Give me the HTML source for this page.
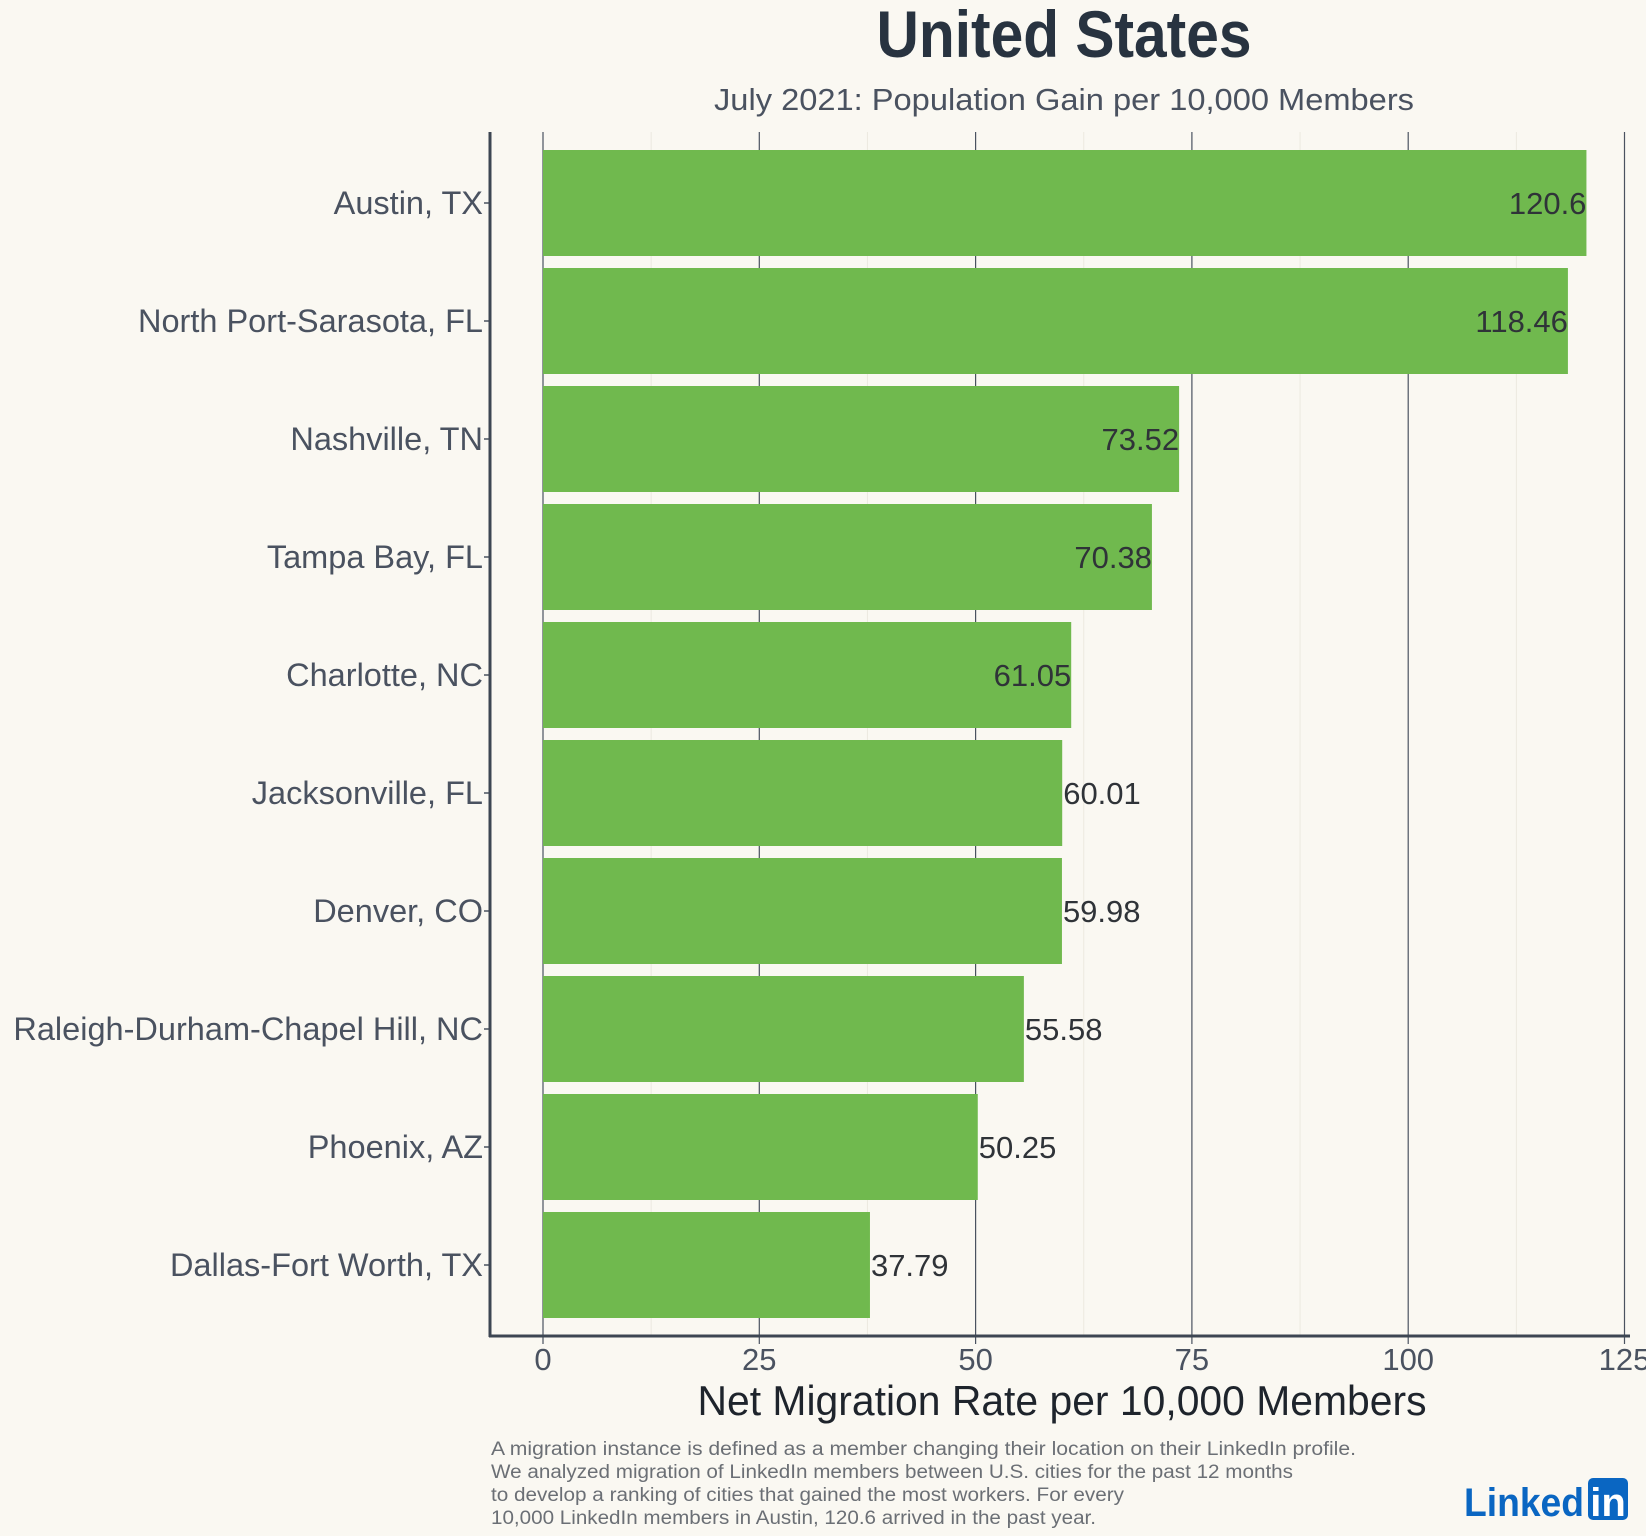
<!DOCTYPE html>
<html><head><meta charset="utf-8"><style>
html,body{margin:0;padding:0;background:#faf8f2;}
svg{display:block;font-family:"Liberation Sans",sans-serif;}
</style></head><body>
<svg id="chart" width="1646" height="1536" viewBox="0 0 1646 1536" xmlns="http://www.w3.org/2000/svg">
<rect width="1646" height="1536" fill="#faf8f2"/>
<text x="1064" y="57" text-anchor="middle" font-size="66" font-weight="bold" fill="#283340" textLength="375" lengthAdjust="spacingAndGlyphs">United States</text>
<text x="1064" y="110" text-anchor="middle" font-size="31" fill="#4a5260" textLength="700" lengthAdjust="spacingAndGlyphs">July 2021: Population Gain per 10,000 Members</text>
<g id="grid"></g>
<g id="bars"></g>
<g id="labels"></g>
<line x1="490" y1="132" x2="490" y2="1337" stroke="#3d4653" stroke-width="3"/>
<line x1="489" y1="1336" x2="1630" y2="1336" stroke="#3d4653" stroke-width="3"/>
<g id="xticks"></g>
<text x="1062" y="1415" text-anchor="middle" font-size="42" fill="#1e242c" textLength="729" lengthAdjust="spacingAndGlyphs">Net Migration Rate per 10,000 Members</text>
<g font-size="19" fill="#6b6f75">
<text x="491" y="1455" textLength="865" lengthAdjust="spacingAndGlyphs">A migration instance is defined as a member changing their location on their LinkedIn profile.</text>
<text x="491" y="1478" textLength="802" lengthAdjust="spacingAndGlyphs">We analyzed migration of LinkedIn members between U.S. cities for the past 12 months</text>
<text x="491" y="1501" textLength="633" lengthAdjust="spacingAndGlyphs">to develop a ranking of cities that gained the most workers. For every</text>
<text x="491" y="1524" textLength="605" lengthAdjust="spacingAndGlyphs">10,000 LinkedIn members in Austin, 120.6 arrived in the past year.</text>
</g>
<g>
<text x="1464" y="1516" font-size="40" font-weight="bold" fill="#0a66c2" textLength="120" lengthAdjust="spacingAndGlyphs">Linked</text>
<rect x="1588" y="1478" width="40" height="42" rx="5" fill="#0a66c2"/>
<text x="1608" y="1516" text-anchor="middle" font-size="40" font-weight="bold" fill="#ffffff">in</text>
</g>
</svg>
<script>
const categories = ["Austin, TX","North Port-Sarasota, FL","Nashville, TN","Tampa Bay, FL","Charlotte, NC","Jacksonville, FL","Denver, CO","Raleigh-Durham-Chapel Hill, NC","Phoenix, AZ","Dallas-Fort Worth, TX"];
const values = [120.6,118.46,73.52,70.38,61.05,60.01,59.98,55.58,50.25,37.79];
const valueLabels = ["120.6","118.46","73.52","70.38","61.05","60.01","59.98","55.58","50.25","37.79"];
const xTicks = [0,25,50,75,100,125];
const xTickLabels = ["0","25","50","75","100","125"];

const NS = "http://www.w3.org/2000/svg";
const x0 = 543, pxPerUnit = 216.3/25;
function xScale(v){ return x0 + v*pxPerUnit; }
const bandTop = 150, pitch = 118, barH = 106;
function yBand(i){ return bandTop + i*pitch; }
function mk(tag, attrs, parent){ const e=document.createElementNS(NS,tag); for(const k in attrs) e.setAttribute(k,attrs[k]); parent.appendChild(e); return e; }

const grid = document.getElementById('grid');
for (let t=12.5; t<125; t+=25){
  const g = mk('line',{x1:xScale(t),x2:xScale(t),y1:132,y2:1336,stroke:'#ece9e0','stroke-width':1},grid);
  
  
}
xTicks.forEach((t,i)=>{
  const g = mk('line',{x1:xScale(t),x2:xScale(t),y1:132,y2:1344,stroke:'#4a5260','stroke-width':1.2},grid);
  
  
});
const xt = document.getElementById('xticks');
xTicks.forEach((t,i)=>{
  const tx = mk('text',{x:xScale(t),y:1370,'text-anchor':'middle','font-size':31,fill:'#4a5260'},xt);
  tx.textContent = xTickLabels[i];
  
  
});
const bars = document.getElementById('bars'), labels = document.getElementById('labels');
categories.forEach((c,i)=>{
  const y = yBand(i), w = xScale(values[i]) - x0;
  const r = mk('rect',{x:x0,y:y,width:w,height:barH,fill:'#70b94e'},bars);
  
  
  const cy = y + barH/2 + 11;
  const lab = mk('text',{x:483,y:cy,'text-anchor':'end','font-size':32.5,fill:'#4a5260'},labels);
  lab.textContent = c;
  
  
  const tk = mk('line',{x1:484,x2:490,y1:y+barH/2,y2:y+barH/2,stroke:'#4a5260','stroke-width':1.5},labels);
  
  
  const inside = values[i] > 60.5;
  const vl = mk('text',{x: inside ? xScale(values[i]) : xScale(values[i]) + 1, y:cy,'text-anchor': inside ? 'end':'start','font-size':31,fill:'#2f3338'},labels);
  vl.textContent = valueLabels[i];
  
  
});
</script>
</body></html>
